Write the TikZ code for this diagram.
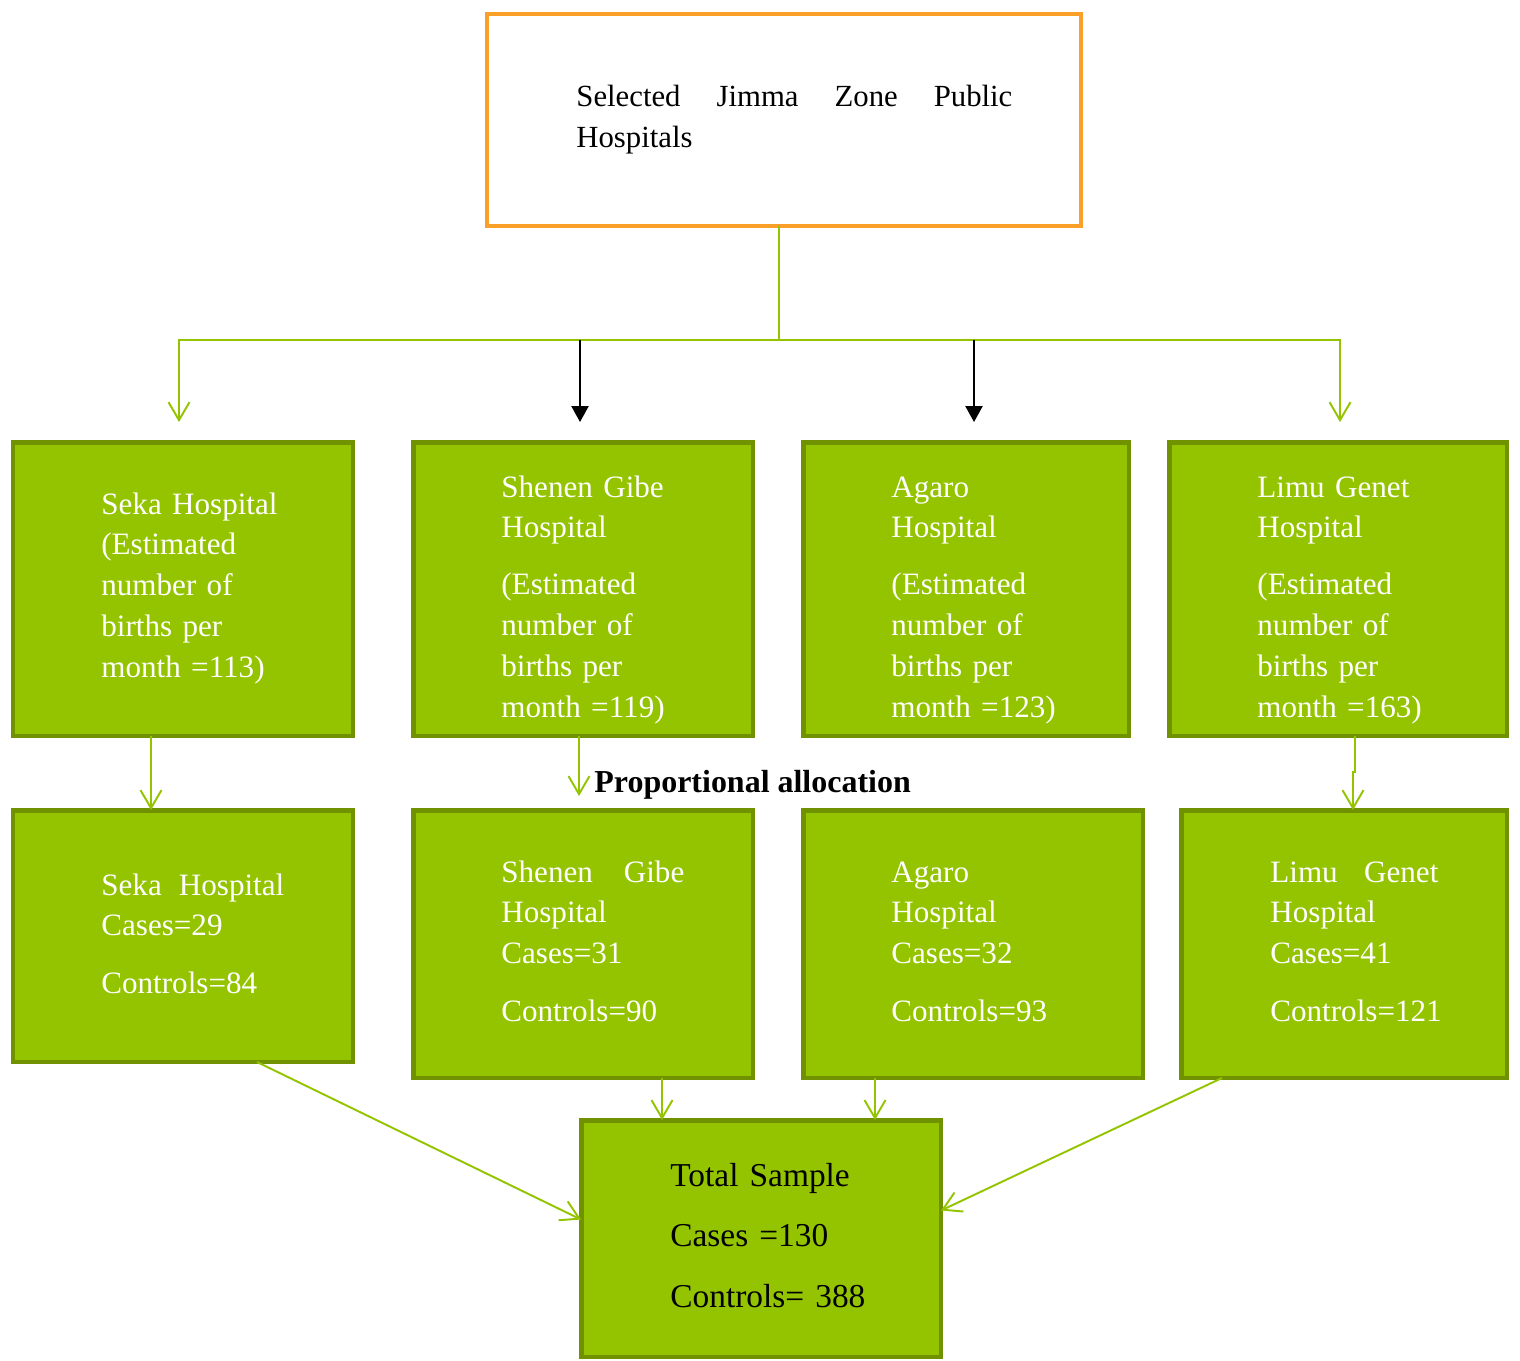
\documentclass[tikz,border=0pt]{standalone}
\usepackage{fontspec}
\setmainfont{Liberation Serif}
\definecolor{topline}{RGB}{250,160,40}
\definecolor{leaf}{RGB}{148,196,0}
\definecolor{leafdark}{RGB}{112,146,0}
\usetikzlibrary{arrows.meta, calc, positioning}
\tikzset{
  hospbox/.style={rectangle, draw=leafdark, fill=leaf, line width=2.8pt,
    inner sep=0pt, outer sep=0pt, minimum height=5.88cm, minimum width=6.8cm},
  countbox/.style={hospbox, minimum height=5.36cm},
  headbox/.style={rectangle, draw=topline, fill=white, line width=2.3pt,
    inner sep=0pt, outer sep=0pt, minimum width=11.88cm, minimum height=4.24cm},
  boxtext/.style={anchor=base west, inner sep=0pt, text width=6cm, align=left,
    text=white, font=\fontsize{17.7}{23.3}\selectfont},
  headtext/.style={boxtext, text=black, text width=9cm,
    font=\fontsize{17.5}{23.8}\selectfont},
  sumtext/.style={boxtext, text=black,
    font=\fontsize{19}{34.6}\selectfont},
  gline/.style={draw=leaf, line width=1.1pt},
  garrow/.style={gline, -{Straight Barb[length=0.36cm, width=0.42cm]}},
  barrow/.style={draw=black, line width=1.3pt, -{Triangle[length=0.32cm, width=0.34cm]}},
}
\begin{document}
\begin{tikzpicture}[x=0.02cm, y=-0.02cm]
  \useasboundingbox (0,0) rectangle (1520,1360);

  \node[headbox] (top) at (784,120) {};
  \node[headtext] (top-txt) at ($(top.north west)+(89,92)$)
    {\makebox[8.72cm]{Selected\hfill Jimma\hfill Zone\hfill Public}\\Hospitals};

  % estimated births
  \node[hospbox] (b1) at (183,589) {};
  \node[hospbox] (b2) at (583,589) {};
  \node[hospbox, minimum width=6.52cm] (b3) at (966,589) {};
  \node[hospbox, minimum width=6.76cm] (b4) at (1338,589) {};
  \node[boxtext] (b1-txt) at ($(b1.north west)+(88,72)$)
    {Seka Hospital\\(Estimated\\number of\\births per\\month =113)};
  \node[boxtext] (b2-txt) at ($(b2.north west)+(88,55)$)
    {Shenen Gibe\\Hospital\\[9pt](Estimated\\number of\\births per\\month =119)};
  \node[boxtext] (b3-txt) at ($(b3.north west)+(88,55)$)
    {Agaro\\Hospital\\[9pt](Estimated\\number of\\births per\\month =123)};
  \node[boxtext] (b4-txt) at ($(b4.north west)+(88,55)$)
    {Limu Genet\\Hospital\\[9pt](Estimated\\number of\\births per\\month =163)};

  % allocated cases and controls
  \node[countbox, minimum height=5.04cm] (c1) at (183,936) {};
  \node[countbox] (c2) at (583,944) {};
  \node[countbox] (c3) at (973,944) {};
  \node[countbox, minimum width=6.52cm] (c4) at (1344,944) {};
  \node[boxtext] (c1-txt) at ($(c1.north west)+(88,85)$)
    {\makebox[3.66cm]{Seka\hfill Hospital}\\Cases=29\\[9.6pt]Controls=84};
  \node[boxtext] (c2-txt) at ($(c2.north west)+(88,72)$)
    {\makebox[3.66cm]{Shenen\hfill Gibe}\\Hospital\\Cases=31\\[9.6pt]Controls=90};
  \node[boxtext] (c3-txt) at ($(c3.north west)+(88,72)$)
    {Agaro\\Hospital\\Cases=32\\[9.6pt]Controls=93};
  \node[boxtext] (c4-txt) at ($(c4.north west)+(89,72)$)
    {\makebox[3.36cm]{Limu\hfill Genet}\\Hospital\\Cases=41\\[9.6pt]Controls=121};

  \node[hospbox, minimum width=7.2cm, minimum height=4.74cm] (total) at (761,1238.5) {};
  \node[sumtext] (total-txt) at ($(total.north west)+(89,66)$)
    {Total Sample\\Cases =130\\Controls= 388};

  \node[anchor=base west, inner sep=0pt, font=\fontsize{18.2}{20}\selectfont\bfseries]
    (alloc) at (594,792) {Proportional allocation};

  \coordinate (trunk) at (779,340);
  \draw[gline] (top.south -| trunk) -- (trunk);
  \draw[garrow] (trunk) -| ($(b1.north)+(-4,-20)$);
  \draw[garrow] (trunk) -| ($(b4.north)+(2,-20)$);
  \draw[barrow] ($(trunk -| b2.north)+(-3,0)$) -- ($(b2.north)+(-3,-20)$);
  \draw[barrow] ($(trunk -| b3.north)+(8,0)$) -- ($(b3.north)+(8,-20)$);

  \draw[garrow] ($(b1.south)+(-32,0)$) -- ($(c1.north)+(-32,0)$);
  \draw[garrow] ($(b2.south)+(-4,0)$) -- ($(c2.north)+(-4,-14)$);
  \draw[garrow] ($(b4.south)+(17,0)$) -- ++(0,36) -| ($(c4.north)+(9,0)$);

  \draw[garrow] ($(c1.south)+(74,0)$) -- ($(total.west)+(0,-19)$);
  \draw[garrow] ($(c2.south)+(79,0)$) -- ++(0,42);
  \draw[garrow] ($(c3.south)+(-98,0)$) -- ++(0,42);
  \draw[garrow] ($(c4.south)+(-122,0)$) -- ($(total.east)+(0,-28)$);
\end{tikzpicture}
\end{document}
